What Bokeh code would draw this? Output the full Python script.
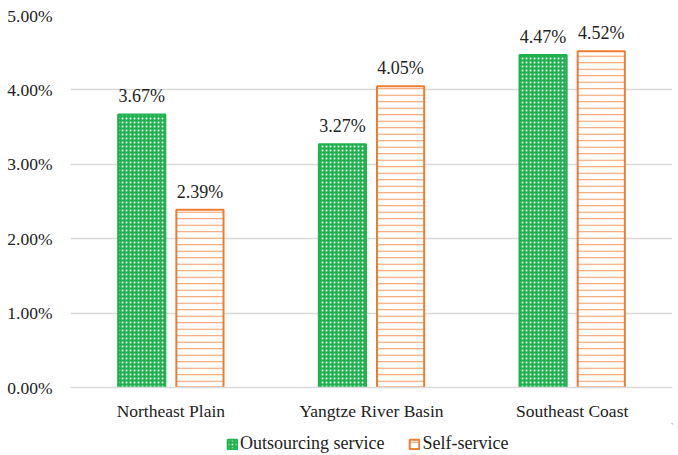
from bokeh.plotting import figure
from bokeh.layouts import column
from bokeh.models import ColumnDataSource, Legend, LegendItem, NumeralTickFormatter, FixedTicker, LabelSet
from bokeh.core.properties import value
from bokeh.transform import dodge
from bokeh.embed import file_html
from bokeh.resources import INLINE

categories = ["Northeast Plain", "Yangtze River Basin", "Southeast Coast"]
outsourcing = [0.0367, 0.0327, 0.0447]
self_service = [0.0239, 0.0405, 0.0452]
series_names = ["Outsourcing service", "Self-service"]
y_ticks = [0.0, 0.01, 0.02, 0.03, 0.04, 0.05]

src = ColumnDataSource(dict(
    cat=categories,
    out=outsourcing,
    slf=self_service,
    out_lbl=[f"{v*100:.2f}%" for v in outsourcing],
    slf_lbl=[f"{v*100:.2f}%" for v in self_service],
))

FONT = "Liberation Serif"
GREEN = "#1FB24E"
ORANGE = "#ED7D31"

green_style = dict(fill_color=GREEN, line_color=GREEN, line_width=2,
                   hatch_pattern="dot", hatch_color="white", hatch_scale=4, hatch_weight=1.5)
orange_style = dict(fill_color="white", line_color=ORANGE, line_width=2,
                    hatch_pattern="horizontal_line", hatch_color=ORANGE, hatch_scale=6.5,
                    hatch_weight=1, hatch_alpha=0.8)

p = figure(x_range=categories, y_range=(0, 0.05), width=678, height=422,
           frame_width=602, frame_height=372,
           output_backend="svg", toolbar_location=None,
           min_border_left=70, min_border_right=6, min_border_top=15, min_border_bottom=0)
p.outline_line_color = None
p.background_fill_color = "white"
p.border_fill_color = "white"

p.vbar(x=dodge("cat", -0.145, range=p.x_range), top="out", width=0.235, source=src, **green_style)
p.vbar(x=dodge("cat", 0.145, range=p.x_range), top="slf", width=0.235, source=src, **orange_style)

for col, lbl, off in (("out", "out_lbl", -0.145), ("slf", "slf_lbl", 0.145)):
    ls = LabelSet(x=dodge("cat", off, range=p.x_range), y=col, text=lbl, source=src,
                  text_align="center", text_baseline="bottom", y_offset=8,
                  text_font=value(FONT), text_font_size=value("18px"), text_color="#222222")
    p.add_layout(ls)

p.yaxis.ticker = FixedTicker(ticks=y_ticks)
p.yaxis.formatter = NumeralTickFormatter(format="0.00%")
p.yaxis.axis_line_color = None
p.yaxis.major_tick_line_color = None
p.yaxis.minor_tick_line_color = None
p.yaxis.major_label_text_font = FONT
p.yaxis.major_label_text_font_size = "17.5px"
p.yaxis.major_label_text_color = "#222222"
p.yaxis.major_label_standoff = 12

p.xaxis.axis_line_color = "#D9D9D9"
p.xaxis.axis_line_width = 1.5
p.xaxis.major_tick_line_color = None
p.xaxis.minor_tick_line_color = None
p.xaxis.major_label_text_font = FONT
p.xaxis.major_label_text_font_size = "17.5px"
p.xaxis.major_label_text_color = "#222222"
p.xaxis.major_label_standoff = 7

p.xgrid.grid_line_color = None
p.ygrid.grid_line_color = "#D9D9D9"
p.ygrid.grid_line_width = 1.5

# legend strip below the chart
lg = figure(width=678, height=33, x_range=(0, 1), y_range=(0, 1),
            x_axis_type=None, y_axis_type=None,
            output_backend="svg", toolbar_location=None,
            min_border_left=70, min_border_right=6, min_border_top=0, min_border_bottom=0)
lg.outline_line_color = None
lg.grid.grid_line_color = None
e = ColumnDataSource(dict(x=[5.0], top=[5.0]))
g1 = lg.vbar(x="x", top="top", bottom=4.0, width=0.1, source=e, **green_style)
g2 = lg.vbar(x="x", top="top", bottom=4.0, width=0.1, source=e, **orange_style)

legend = Legend(items=[LegendItem(label=series_names[0], renderers=[g1]),
                       LegendItem(label=series_names[1], renderers=[g2])],
                orientation="horizontal", location=(156, 2),
                label_text_font=FONT, label_text_font_size="18px", label_text_color="#222222",
                glyph_width=12, glyph_height=12, spacing=24, label_standoff=2,
                border_line_color=None, background_fill_alpha=0, padding=2, margin=0)
lg.add_layout(legend)

open("out.html", "w").write(file_html(column(p, lg, spacing=0), INLINE))
